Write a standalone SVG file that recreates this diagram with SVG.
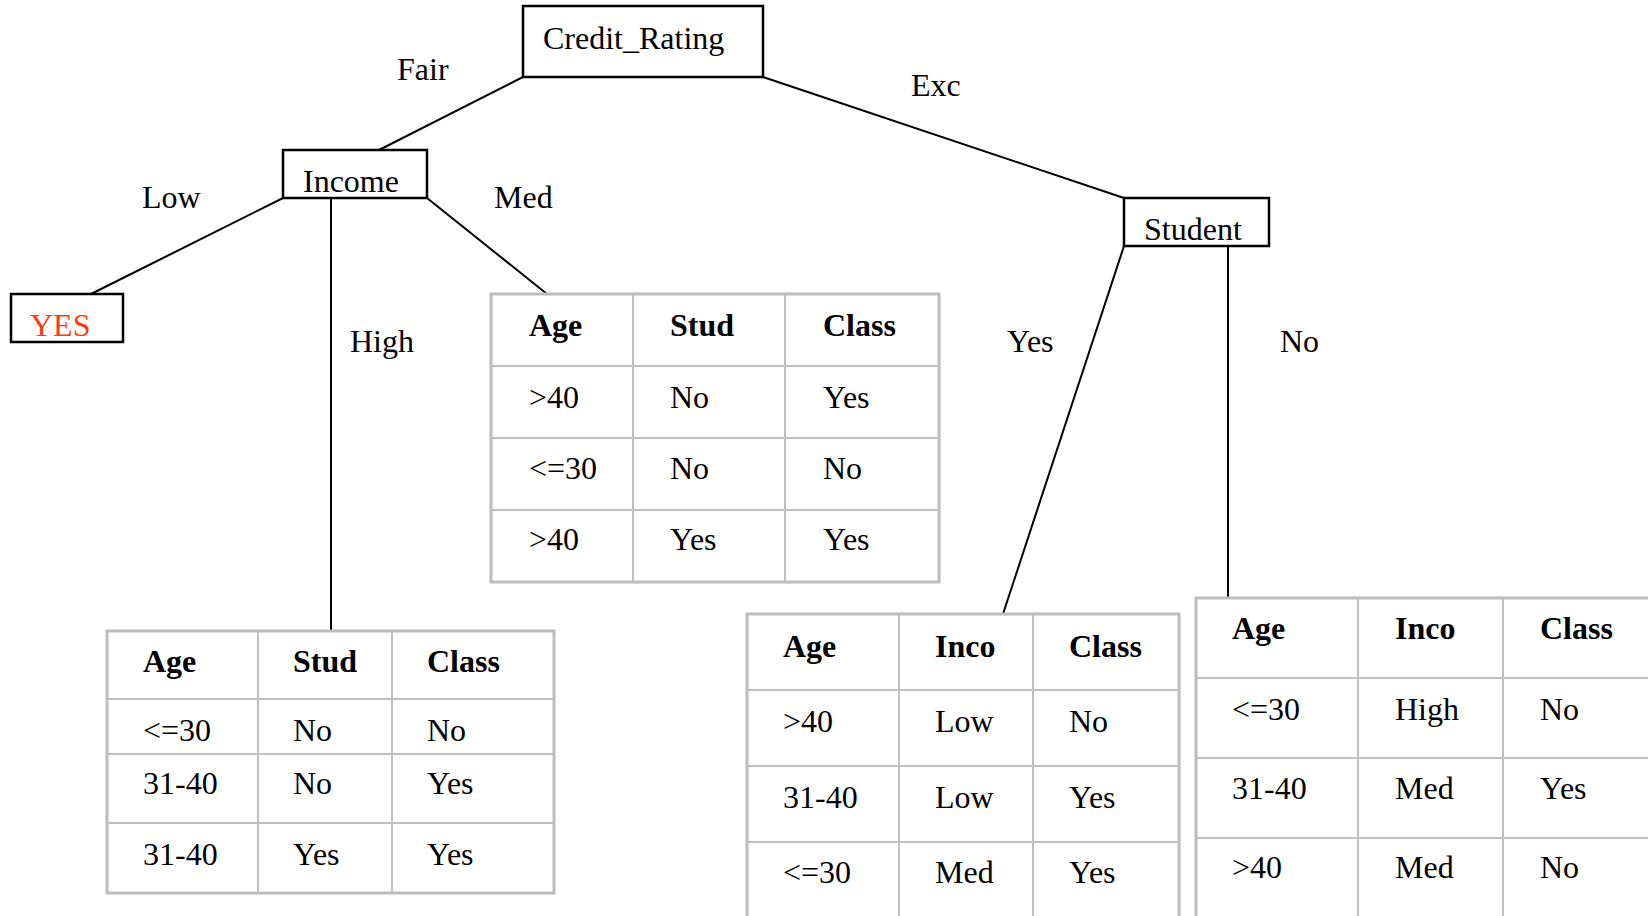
<svg xmlns="http://www.w3.org/2000/svg" width="1648" height="916" viewBox="0 0 1648 916">
<style>
text{font-family:"Liberation Serif","Times New Roman",serif;font-size:32px;fill:#000}
.h{font-weight:bold}
.node{fill:#fff;stroke:#000;stroke-width:2.5}
.edge{stroke:#000;stroke-width:2;fill:none}
.tb{fill:#fff;stroke:#bcbcbc;stroke-width:3}
.tl{stroke:#c0c0c0;stroke-width:2}
.red{fill:#ff3a0e}
</style>
<rect width="1648" height="916" fill="#fff"/>
<g id="connectors">
<line class="edge" x1="523" y1="77" x2="379" y2="150"/>
<line class="edge" x1="763" y1="77" x2="1124" y2="198"/>
<line class="edge" x1="283" y1="198" x2="91" y2="294"/>
<line class="edge" x1="331" y1="198" x2="331" y2="631"/>
<line class="edge" x1="427" y1="198" x2="547" y2="294"/>
<line class="edge" x1="1124" y1="246" x2="1003" y2="614"/>
<line class="edge" x1="1228" y1="246" x2="1228" y2="598"/>
</g>
<g id="edge-labels">
<text x="397" y="80">Fair</text>
<text x="911" y="96">Exc</text>
<text x="142" y="208">Low</text>
<text x="494" y="208">Med</text>
<text x="350" y="352">High</text>
<text x="1007" y="352">Yes</text>
<text x="1280" y="352">No</text>
</g>
<g id="credit_rating">
<rect class="node" x="523" y="6" width="240" height="71"/>
<text x="543" y="49">Credit_Rating</text>
</g>
<g id="income">
<rect class="node" x="283" y="150" width="144" height="48"/>
<text x="303" y="192">Income</text>
</g>
<g id="student">
<rect class="node" x="1124" y="198" width="145" height="48"/>
<text x="1144" y="240">Student</text>
</g>
<g id="yes_leaf">
<rect class="node" x="11" y="294" width="112" height="48"/>
<text class="red" x="30" y="336">YES</text>
</g>
<g id="table_med">
<rect class="tb" x="491" y="294" width="448" height="288"/>
<line class="tl" x1="633" y1="294" x2="633" y2="582"/>
<line class="tl" x1="785" y1="294" x2="785" y2="582"/>
<line class="tl" x1="491" y1="366" x2="939" y2="366"/>
<line class="tl" x1="491" y1="438" x2="939" y2="438"/>
<line class="tl" x1="491" y1="510" x2="939" y2="510"/>
<text class="h" x="529" y="336">Age</text>
<text class="h" x="670" y="336">Stud</text>
<text class="h" x="823" y="336">Class</text>
<text x="529" y="408">&gt;40</text>
<text x="670" y="408">No</text>
<text x="823" y="408">Yes</text>
<text x="529" y="479">&lt;=30</text>
<text x="670" y="479">No</text>
<text x="823" y="479">No</text>
<text x="529" y="550">&gt;40</text>
<text x="670" y="550">Yes</text>
<text x="823" y="550">Yes</text>
</g>
<g id="table_high">
<rect class="tb" x="107" y="631" width="447" height="262"/>
<line class="tl" x1="258" y1="631" x2="258" y2="893"/>
<line class="tl" x1="392" y1="631" x2="392" y2="893"/>
<line class="tl" x1="107" y1="699" x2="554" y2="699"/>
<line class="tl" x1="107" y1="754" x2="554" y2="754"/>
<line class="tl" x1="107" y1="823" x2="554" y2="823"/>
<text class="h" x="143" y="672">Age</text>
<text class="h" x="293" y="672">Stud</text>
<text class="h" x="427" y="672">Class</text>
<text x="143" y="741">&lt;=30</text>
<text x="293" y="741">No</text>
<text x="427" y="741">No</text>
<text x="143" y="794">31-40</text>
<text x="293" y="794">No</text>
<text x="427" y="794">Yes</text>
<text x="143" y="865">31-40</text>
<text x="293" y="865">Yes</text>
<text x="427" y="865">Yes</text>
</g>
<g id="table_student_yes">
<rect class="tb" x="747" y="614" width="432" height="330"/>
<line class="tl" x1="899" y1="614" x2="899" y2="944"/>
<line class="tl" x1="1033" y1="614" x2="1033" y2="944"/>
<line class="tl" x1="747" y1="690" x2="1179" y2="690"/>
<line class="tl" x1="747" y1="766" x2="1179" y2="766"/>
<line class="tl" x1="747" y1="842" x2="1179" y2="842"/>
<text class="h" x="783" y="657">Age</text>
<text class="h" x="935" y="657">Inco</text>
<text class="h" x="1069" y="657">Class</text>
<text x="783" y="732">&gt;40</text>
<text x="935" y="732">Low</text>
<text x="1069" y="732">No</text>
<text x="783" y="808">31-40</text>
<text x="935" y="808">Low</text>
<text x="1069" y="808">Yes</text>
<text x="783" y="883">&lt;=30</text>
<text x="935" y="883">Med</text>
<text x="1069" y="883">Yes</text>
</g>
<g id="table_student_no">
<rect class="tb" x="1196" y="598" width="480" height="350"/>
<line class="tl" x1="1358" y1="598" x2="1358" y2="948"/>
<line class="tl" x1="1503" y1="598" x2="1503" y2="948"/>
<line class="tl" x1="1196" y1="678" x2="1676" y2="678"/>
<line class="tl" x1="1196" y1="758" x2="1676" y2="758"/>
<line class="tl" x1="1196" y1="838" x2="1676" y2="838"/>
<text class="h" x="1232" y="639">Age</text>
<text class="h" x="1395" y="639">Inco</text>
<text class="h" x="1540" y="639">Class</text>
<text x="1232" y="720">&lt;=30</text>
<text x="1395" y="720">High</text>
<text x="1540" y="720">No</text>
<text x="1232" y="799">31-40</text>
<text x="1395" y="799">Med</text>
<text x="1540" y="799">Yes</text>
<text x="1232" y="878">&gt;40</text>
<text x="1395" y="878">Med</text>
<text x="1540" y="878">No</text>
</g>
</svg>
